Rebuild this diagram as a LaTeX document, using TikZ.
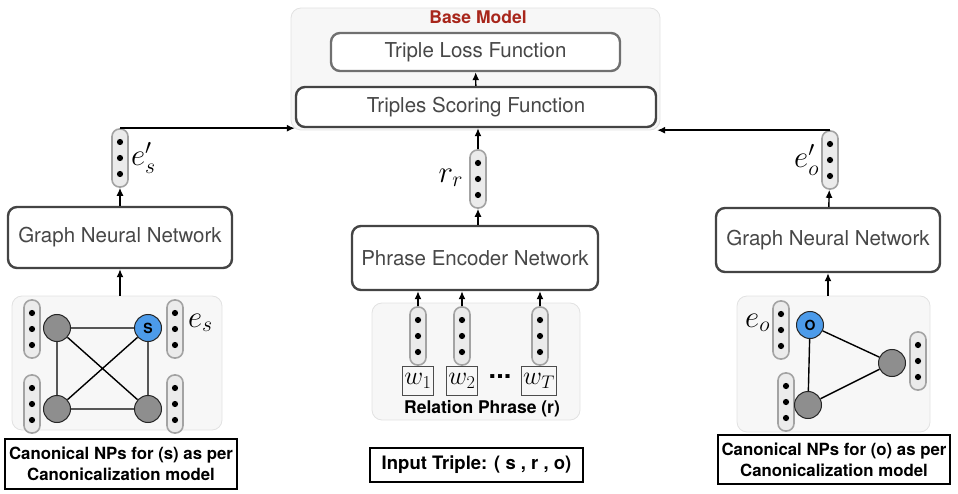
\RequirePackage{fix-cm}
\documentclass[tikz,border=0pt]{standalone}
\usepackage{fontspec}
\setsansfont{TeX Gyre Heros}
\usetikzlibrary{arrows.meta}
\definecolor{boxgray}{HTML}{444444}
\definecolor{lossgray}{HTML}{707070}
\definecolor{txtgray}{HTML}{474747}
\definecolor{panelfill}{HTML}{F7F7F7}
\definecolor{panelline}{HTML}{E2E2E2}
\definecolor{vecfill}{HTML}{EBEBEB}
\definecolor{vecline}{HTML}{A3A3A3}
\definecolor{entgray}{HTML}{8E8E8E}
\definecolor{entblue}{HTML}{4C9BEA}
\definecolor{basered}{HTML}{A8261B}
\tikzset{
  net/.style={draw=boxgray, line width=2.4pt, rounded corners=9pt, fill=white, text=txtgray,
    font=\sffamily\fontsize{20.5}{22}\selectfont},
  panel/.style={draw=panelline, fill=panelfill, line width=0.8pt, rounded corners=10pt},
  vec/.style={draw=vecline, fill=vecfill, line width=1.6pt, rounded corners=7.5pt,
    minimum width=16pt, minimum height=58pt, inner sep=0pt,
    path picture={\foreach \d in {-16,0,16} \fill[black] (path picture bounding box.center) ++(0,\d pt) circle (3.1pt);}},
  ent/.style={circle, draw=black!85, line width=1pt, fill=entgray, minimum size=27pt, inner sep=0pt,
    font=\sffamily\bfseries\fontsize{14}{14}\selectfont},
  caption/.style={draw=black, line width=1.6pt, fill=white, align=center,
    font=\sffamily\bfseries\fontsize{16.8}{21}\selectfont},
  word/.style={draw=black!70, line width=0.8pt, inner sep=2pt, minimum height=29pt,
    font=\fontsize{26}{26}\selectfont},
  lab/.style={font=\fontsize{31}{31}\selectfont}
}
\begin{document}
\begin{tikzpicture}[x=1pt, y=-1pt, >={Latex[length=8pt,width=7pt]}, line width=1.4pt]
\useasboundingbox (0,0) rectangle (958,494);
% base model
\node[panel, minimum width=369pt, minimum height=122pt] (base) at (475.5,69) {};
\node[text=basered, font=\sffamily\bfseries\fontsize{17.5}{17.5}\selectfont] (basename) at (478,17) {Base Model};
\node[net, draw=lossgray, minimum width=289pt, minimum height=38pt] (loss) at (475.5,52) {Triple Loss Function};
\node[net, minimum width=360pt, minimum height=40pt] (score) at (476,107) {Triples Scoring Function};
\draw[->] (score) -- (loss);
% subject side
\node[net, minimum width=224pt, minimum height=61pt] (gnns) at (120,237.5) {Graph Neural Network};
\node[vec] (es2) at (120,158) {};
\node[lab, anchor=west] (es2lab) at (127,158) {$e'_s$};
\draw[->] (gnns) -- (es2);
\draw[->] (es2.north) -- (es2.north -| score.west);
\node[panel, minimum width=210pt, minimum height=134pt] (graphs) at (117,363) {};
\node[vec] (vs1) at (32,329) {};
\node[vec] (vs2) at (175,329) {};
\node[vec] (vs3) at (32,404) {};
\node[vec] (vs4) at (175,404) {};
\node[ent] (s1) at (57,328) {};
\node[ent, fill=entblue] (s) at (148,328) {S};
\node[ent] (s3) at (57,409) {};
\node[ent] (s4) at (148,409) {};
\draw (s1) -- (s) -- (s4) -- (s3) -- (s1) (s1) -- (s4) (s) -- (s3);
\node[lab, anchor=west] (eslab) at (184,323) {$e_s$};
\draw[->] (gnns.south |- graphs.north) -- (gnns);
\node[caption, minimum width=232pt, minimum height=50pt] (caps) at (121,464) {Canonical NPs for (s) as per\\Canonicalization model};
% relation side
\node[net, minimum width=246pt, minimum height=64pt] (enc) at (475,258) {Phrase Encoder Network};
\node[vec] (rr) at (478,179) {};
\node[lab, anchor=east] (rrlab) at (467,178) {$r_r$};
\draw[->] (enc.north -| rr) -- (rr);
\draw[->] (rr) -- (rr |- score.south);
\node[panel, minimum width=208pt, minimum height=117pt] (phrase) at (476,361.5) {};
\node[vec] (w1v) at (418,336) {};
\node[vec] (w2v) at (462,336) {};
\node[vec] (wTv) at (540,336) {};
\node[word] (w1) at (418,381) {$w_1$};
\node[word] (w2) at (462,381) {$w_2$};
\node[word] (wT) at (539,381) {$w_T$};
\node[font=\sffamily\bfseries\fontsize{27}{27}\selectfont] (wdots) at (500,377) {...};
\node[font=\sffamily\bfseries\fontsize{17.5}{17.5}\selectfont] (rel) at (482,409) {Relation Phrase (r)};
\foreach \v in {w1v,w2v,wTv}
  \draw[->] (\v) -- (\v |- enc.south);
\node[caption, font=\sffamily\bfseries\fontsize{18.5}{21}\selectfont, minimum width=213pt, minimum height=34pt] (trip) at (476.5,465) {Input Triple: ( s , r , o)};
% object side
\node[net, minimum width=224pt, minimum height=64pt] (gnno) at (828,240) {Graph Neural Network};
\node[vec] (eo2) at (830,160) {};
\node[lab, anchor=east] (eo2lab) at (823,160) {$e'_o$};
\draw[->] (gnno) -- (eo2);
\draw[->] (eo2.north) -- (eo2.north -| score.east);
\node[panel, minimum width=193pt, minimum height=136pt] (grapho) at (833.5,364) {};
\node[vec] (vo1) at (781,330) {};
\node[vec] (vo3) at (786,402) {};
\node[vec] (vo2) at (918,361) {};
\node[ent, fill=entblue] (o) at (810,325) {O};
\node[ent] (o2) at (892,363) {};
\node[ent] (o3) at (808,405) {};
\draw (o) -- (o2) -- (o3) -- (o);
\node[lab, anchor=east] (eolab) at (774,323) {$e_o$};
\draw[->] (gnno.south |- grapho.north) -- (gnno);
\node[caption, minimum width=222pt, minimum height=49pt] (capo) at (834,459.5) {Canonical NPs for (o) as per\\Canonicalization model};
\end{tikzpicture}
\end{document}
